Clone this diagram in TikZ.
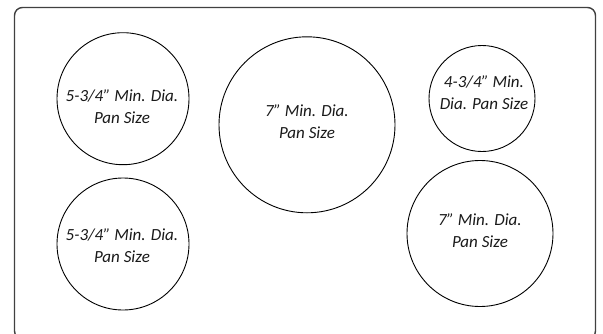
\documentclass[tikz,border=0pt]{standalone}
\usepackage{fontspec}
\setmainfont{Carlito}
\begin{document}
\begin{tikzpicture}[x=1pt,y=-1pt,
  burner/.style={draw=black,line width=0.9pt,circle,inner sep=0pt},
  lbl/.style={font=\fontsize{17}{22}\selectfont\itshape,align=center,text=black!90}]
\useasboundingbox (0,0) rectangle (603,333);
\begin{scope}
\clip (0,0) rectangle (603,333);
\draw[draw=black!75,line width=1.4pt,rounded corners=8pt] (14.5,7.5) rectangle (595.5,339);
\end{scope}
\node[burner,minimum size=132pt] (c1) at (123,98.7) {};
\node[burner,minimum size=176pt] (c2) at (307,124.8) {};
\node[burner,minimum size=106pt] (c3) at (482,98.5) {};
\node[burner,minimum size=132pt] (c4) at (123,244) {};
\node[burner,minimum size=146pt] (c5) at (480,233.5) {};
\node[lbl] (t1) at (122,106.7) {5-3/4” Min. Dia.\\Pan Size};
\node[lbl] (t2) at (307,121.3) {7” Min. Dia.\\Pan Size};
\node[lbl] (t3) at (484,92.7) {4-3/4” Min.\\Dia. Pan Size};
\node[lbl] (t4) at (122,246) {5-3/4” Min. Dia.\\Pan Size};
\node[lbl] (t5) at (480,231) {7” Min. Dia.\\Pan Size};
\end{tikzpicture}
\end{document}
